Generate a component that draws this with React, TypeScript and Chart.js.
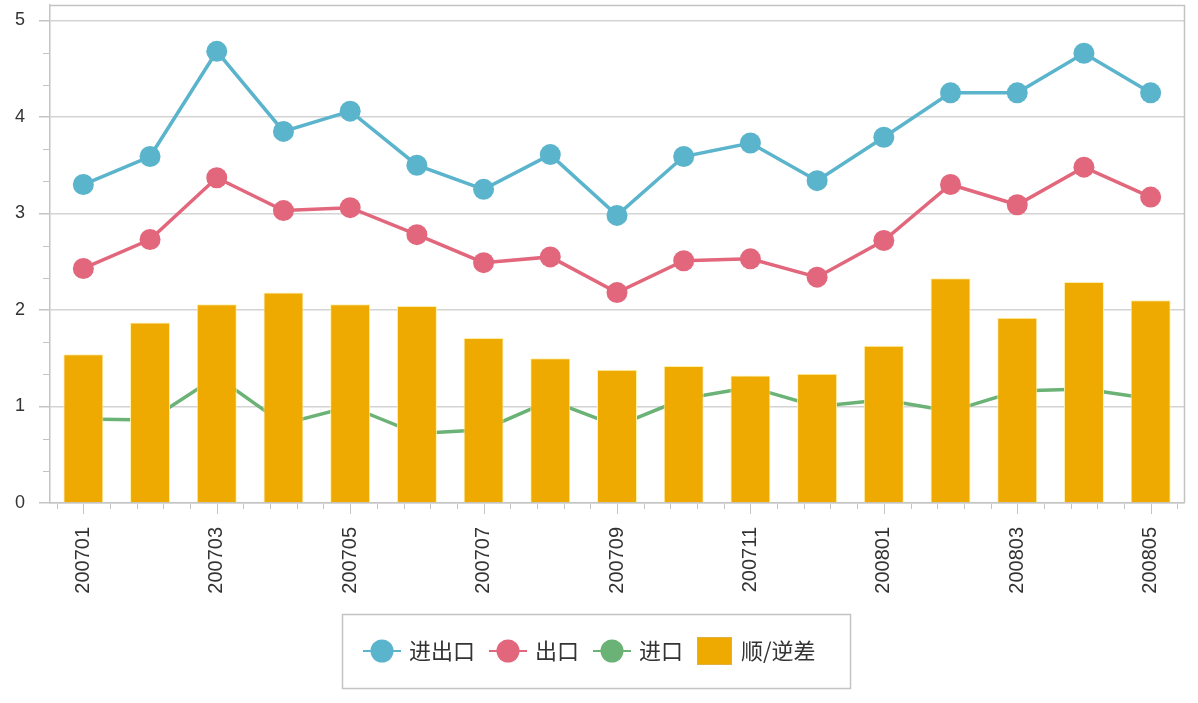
import React, { useEffect, useRef } from "react";
import { Chart, registerables } from "chart.js";

Chart.register(...registerables);

// ---- data ----
const categories = [
  "200701", "200702", "200703", "200704", "200705", "200706", "200707", "200708", "200709",
  "200710", "200711", "200712", "200801", "200802", "200803", "200804", "200805",
];
const totalTrade = [3.30, 3.59, 4.68, 3.85, 4.06, 3.50, 3.25, 3.61, 2.98, 3.59, 3.73, 3.34, 3.79, 4.25, 4.25, 4.66, 4.25];
const exportsData = [2.43, 2.73, 3.37, 3.03, 3.06, 2.78, 2.49, 2.55, 2.18, 2.51, 2.53, 2.34, 2.72, 3.30, 3.09, 3.48, 3.17];
const importsData = [0.87, 0.86, 1.31, 0.82, 1.00, 0.72, 0.76, 1.06, 0.80, 1.08, 1.20, 1.00, 1.07, 0.95, 1.16, 1.18, 1.08];
const balanceData = [1.54, 1.87, 2.06, 2.18, 2.06, 2.04, 1.71, 1.50, 1.38, 1.42, 1.32, 1.34, 1.63, 2.33, 1.92, 2.29, 2.10];
const seriesNames = ["进出口", "出口", "进口", "顺/逆差"];
const yTickValues = [0, 1, 2, 3, 4, 5];

const COLORS = {
  total: "#5AB4CC",
  exp: "#E2677C",
  imp: "#6BB276",
  bar: "#EEAA00",
  barEdge: "#FFF2A8",
  grid: "#D3D3D3",
  axis: "#C4C4C4",
  text: "#333333",
};

const decorPlugin = {
  id: "decor",
  beforeDatasetsDraw(chart: any) {
    const { ctx, chartArea } = chart;
    const xs = chart.scales.x;
    const ys = chart.scales.y;
    ctx.save();
    ctx.strokeStyle = COLORS.axis;
    ctx.lineWidth = 1.5;
    ctx.beginPath();
    ctx.moveTo(chartArea.left, chartArea.top + 0.5);
    ctx.lineTo(chartArea.right + 0.5, chartArea.top + 0.5);
    ctx.lineTo(chartArea.right + 0.5, chartArea.bottom);
    ctx.stroke();
    ctx.lineWidth = 1;
    ctx.beginPath();
    for (let k = 1; k < 15; k++) {
      if (k % 3 === 0) continue;
      const y = Math.round(ys.getPixelForValue(k / 3)) + 0.5;
      ctx.moveTo(chartArea.left - 7, y);
      ctx.lineTo(chartArea.left, y);
    }
    ctx.stroke();
    ctx.beginPath();
    for (let s = -1; s <= 41; s++) {
      const v = s * 0.4;
      if (v < -0.5 || v > categories.length - 0.5) continue;
      const x = Math.round(xs.getPixelForValue(v)) + 0.5;
      const major = s % 5 === 0;
      ctx.moveTo(x, chartArea.bottom + 1);
      ctx.lineTo(x, chartArea.bottom + (major ? 11 : 6));
    }
    ctx.stroke();
    ctx.restore();
  },
  afterDraw(chart: any) {
    const { ctx } = chart;
    const ds = chart.data.datasets;
    ctx.save();
    ctx.strokeStyle = COLORS.axis;
    ctx.lineWidth = 1.5;
    ctx.strokeRect(342.5, 614.5, 508, 74);
    ctx.font = '22px "Noto Sans CJK SC", sans-serif';
    ctx.textBaseline = "middle";
    const cy = 651;
    let x = 363;
    [0, 1, 2, 3].forEach((i) => {
      const d = ds[i];
      if (d.type === "bar") {
        ctx.fillStyle = d.backgroundColor;
        ctx.fillRect(x, cy - 14, 35, 28);
        ctx.strokeStyle = "#E0B040";
        ctx.lineWidth = 1;
        ctx.strokeRect(x + 0.5, cy - 13.5, 34, 27);
        x += 35 + 9;
      } else {
        ctx.strokeStyle = d.borderColor;
        ctx.lineWidth = 2;
        ctx.beginPath();
        ctx.moveTo(x, cy);
        ctx.lineTo(x + 38, cy);
        ctx.stroke();
        ctx.fillStyle = d.backgroundColor;
        ctx.beginPath();
        ctx.arc(x + 19, cy, 11.5, 0, Math.PI * 2);
        ctx.fill();
        x += 38 + 8;
      }
      ctx.fillStyle = COLORS.text;
      ctx.fillText(d.label, x, cy);
      x += ctx.measureText(d.label).width + 14;
    });
    ctx.restore();
  },
};

export default function App() {
  const ref = useRef<HTMLCanvasElement>(null);
  useEffect(() => {
    if (!ref.current) return;
    const lineDs = (label: string, data: number[], color: string, order: number) => ({
      type: "line" as const,
      label,
      data,
      borderColor: color,
      backgroundColor: color,
      borderWidth: 3.5,
      pointRadius: 10.5,
      pointHoverRadius: 10.5,
      pointBorderWidth: 0,
      pointBackgroundColor: color,
      tension: 0,
      order,
    });
    const chart = new Chart(ref.current, {
      type: "bar",
      data: {
        labels: categories,
        datasets: [
          lineDs(seriesNames[0], totalTrade, COLORS.total, 1),
          lineDs(seriesNames[1], exportsData, COLORS.exp, 1),
          lineDs(seriesNames[2], importsData, COLORS.imp, 3),
          {
            type: "bar" as const,
            label: seriesNames[3],
            data: balanceData,
            backgroundColor: COLORS.bar,
            borderColor: COLORS.barEdge,
            borderWidth: 1,
            categoryPercentage: 1,
            barPercentage: 0.6,
            order: 2,
          },
        ] as any,
      },
      options: {
        responsive: false,
        animation: false,
        layout: { autoPadding: false, padding: { left: 0, top: 5, right: 14, bottom: 0 } },
        plugins: { legend: { display: false }, tooltip: { enabled: false } },
        scales: {
          x: {
            offset: true,
            grid: { display: false, drawTicks: false },
            border: { display: true, color: COLORS.axis, width: 1.5 },
            ticks: {
              autoSkip: false,
              maxRotation: 90,
              minRotation: 90,
              padding: 24,
              color: COLORS.text,
              font: { family: '"Liberation Sans", Arial, sans-serif', size: 20 },
              callback: (_v: any, i: number) => (i % 2 === 0 ? categories[i] : ""),
            },
            afterFit: (s: any) => {
              s.height = 200;
              s.paddingLeft = 0;
              s.paddingRight = 0;
            },
          },
          y: {
            min: 0,
            max: 5.16,
            grid: { color: COLORS.grid, lineWidth: 1.5, tickLength: 11, tickColor: COLORS.axis },
            border: { display: true, color: COLORS.axis, width: 1.5 },
            afterBuildTicks: (s: any) => {
              s.ticks = yTickValues.map((v) => ({ value: v }));
            },
            ticks: {
              includeBounds: false,
              padding: 14,
              color: COLORS.text,
              font: { family: '"Liberation Sans", Arial, sans-serif', size: 18 },
              callback: (v: any) => String(v),
            },
            afterFit: (s: any) => {
              s.width = 50;
              s.paddingTop = 0;
              s.paddingBottom = 0;
            },
          },
        },
      },
      plugins: [decorPlugin],
    } as any);
    return () => chart.destroy();
  }, []);
  return (
    <div style={{ position: "absolute", left: 0, top: 0, width: 1198, height: 703, background: "#fff" }}>
      <canvas ref={ref} width={1198} height={703} />
    </div>
  );
}
